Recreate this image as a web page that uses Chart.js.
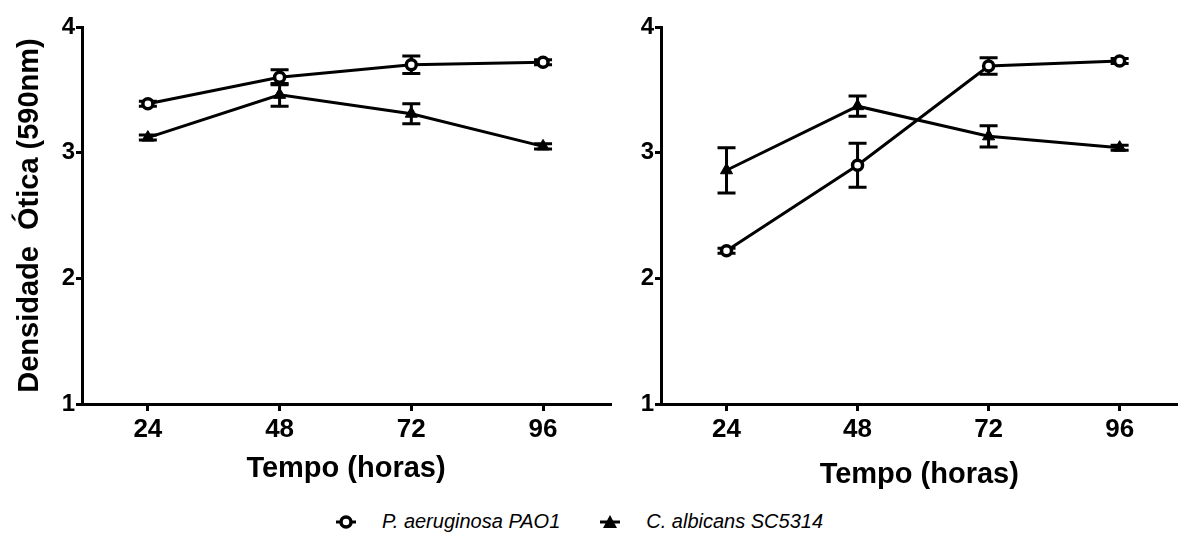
<!DOCTYPE html>
<html>
<head>
<meta charset="utf-8">
<script src="https://cdn.jsdelivr.net/npm/chart.js@4"></script>
<style>
  body { margin: 0; background: #fff; width: 1178px; height: 533px; overflow: hidden; position: relative; }
  #left { position: absolute; left: 0; top: 0; }
  #right { position: absolute; left: 620px; top: 0; }
  #legend { position: absolute; top: 510px; left: 334px; font: italic 20px "Liberation Sans", Arial, sans-serif; color: #000; display: flex; align-items: center; white-space: nowrap; }
  #legend span { margin-right: 38px; }
  #legend svg { margin-right: 10px; }
</style>
</head>
<body>
<canvas id="left" width="620" height="500"></canvas>
<canvas id="right" width="566" height="500"></canvas>
<div id="legend">
  <svg width="38" height="20"><line x1="2" y1="10" x2="22" y2="10" stroke="#000" stroke-width="3"/><circle cx="12" cy="10" r="5" fill="#fff" stroke="#000" stroke-width="3.5"/></svg>
  <span>P. aeruginosa PAO1</span>
  <svg width="38" height="20"><line x1="2" y1="10" x2="22" y2="10" stroke="#000" stroke-width="3"/><polygon points="12,3 19,16 5,16" fill="#000"/></svg>
  <span>C. albicans SC5314</span>
</div>
<script>
// Dados
const hours = [24, 48, 72, 96];
const yTicks = [1, 2, 3, 4];

const paoLeft = [3.39, 3.60, 3.70, 3.72];
const paoLeftErr = [0.02, 0.06, 0.07, 0.02];
const scLeft = [3.12, 3.46, 3.31, 3.05];
const scLeftErr = [0.02, 0.09, 0.08, 0.02];

const paoRight = [2.22, 2.90, 3.69, 3.73];
const paoRightErr = [0.02, 0.175, 0.065, 0.02];
const scRight = [2.86, 3.37, 3.13, 3.04];
const scRightErr = [0.18, 0.08, 0.085, 0.02];

Chart.defaults.font.family = '"Liberation Sans", Arial, sans-serif';
Chart.defaults.color = '#000';
Chart.defaults.animation = false;

// barras de erro desenhadas com as escalas do gráfico
const errorBars = {
  id: 'errorBars',
  beforeDatasetsDraw(chart) {
    const ctx = chart.ctx;
    const y = chart.scales.y;
    chart.data.datasets.forEach((ds, di) => {
      const meta = chart.getDatasetMeta(di);
      ctx.save();
      ctx.strokeStyle = '#000';
      ctx.lineWidth = 3;
      meta.data.forEach((pt, i) => {
        const e = ds.errors[i];
        const top = y.getPixelForValue(ds.data[i].y + e);
        const bot = y.getPixelForValue(ds.data[i].y - e);
        ctx.beginPath();
        ctx.moveTo(pt.x, top); ctx.lineTo(pt.x, bot);
        ctx.moveTo(pt.x - 9, top); ctx.lineTo(pt.x + 9, top);
        ctx.moveTo(pt.x - 9, bot); ctx.lineTo(pt.x + 9, bot);
        ctx.stroke();
      });
      ctx.restore();
    });
  }
};

function series(vals) {
  return hours.map((h, i) => ({ x: h, y: vals[i] }));
}

function makeChart(id, pao, paoErr, sc, scErr, opts) {
  return new Chart(document.getElementById(id), {
    type: 'line',
    data: {
      datasets: [
        {
          label: 'P. aeruginosa PAO1', data: series(pao), errors: paoErr,
          borderColor: '#000', borderWidth: 3,
          pointStyle: 'circle', pointRadius: 5, pointBorderWidth: 3.5,
          pointBackgroundColor: '#fff', pointBorderColor: '#000'
        },
        {
          label: 'C. albicans SC5314', data: series(sc), errors: scErr,
          borderColor: '#000', borderWidth: 3,
          pointStyle: 'triangle', pointRadius: 7, pointBorderWidth: 1,
          pointBackgroundColor: '#000', pointBorderColor: '#000'
        }
      ]
    },
    options: {
      responsive: false,
      layout: { padding: { top: 27, right: opts.padRight, bottom: opts.padBottom } },
      plugins: { legend: { display: false }, tooltip: { enabled: false } },
      scales: {
        x: {
          type: 'linear', min: 12, max: opts.xMax,
          afterBuildTicks: s => { s.ticks = hours.map(v => ({ value: v })); },
          grid: { drawOnChartArea: false, tickLength: 7, lineWidth: 3, color: '#000' },
          border: { width: 3, color: '#000' },
          ticks: { font: { size: 26, weight: 'bold' }, padding: 3 },
          title: { display: true, text: 'Tempo (horas)', font: { size: 29, weight: 'bold' }, padding: { top: opts.titleTop, bottom: 0 } }
        },
        y: {
          min: 1, max: 4,
          afterBuildTicks: s => { s.ticks = yTicks.map(v => ({ value: v })); },
          afterFit: s => { s.width = opts.yWidth; },
          grid: { drawOnChartArea: false, tickLength: 6, lineWidth: 3, color: '#000' },
          border: { width: 3, color: '#000' },
          ticks: { font: { size: 24, weight: 'bold' }, padding: 1 },
          title: { display: opts.yTitle, text: 'Densidade  Ótica (590nm)', font: { size: 29, weight: 'bold' }, padding: { top: 13, bottom: 0 } }
        }
      }
    },
    plugins: [errorBars]
  });
}

makeChart('left', paoLeft, paoLeftErr, scLeft, scLeftErr,
  { xMax: 108.2, padRight: 10, padBottom: 14, titleTop: 3, yWidth: 82, yTitle: true });
makeChart('right', paoRight, paoRightErr, scRight, scRightErr,
  { xMax: 106.6, padRight: 0, padBottom: 8, titleTop: 9, yWidth: 41, yTitle: false });
</script>
</body>
</html>
